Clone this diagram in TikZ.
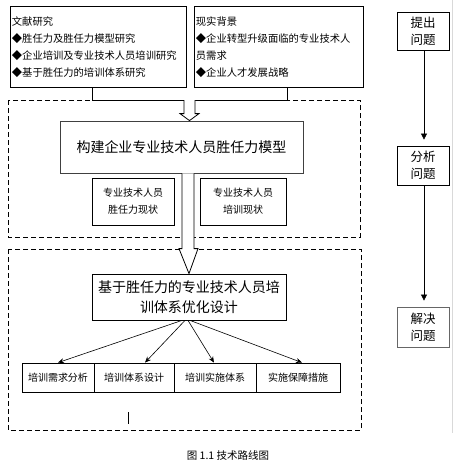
\documentclass[tikz,border=0pt]{standalone}
\usepackage{fontspec}
\setmainfont{Noto Sans CJK SC}
\usetikzlibrary{arrows.meta}
\tikzset{
  box/.style={draw,line width=0.8pt,inner sep=0pt,align=center},
  note/.style={box,anchor=north west,align=left,inner xsep=1.5pt,minimum height=81,
    font=\fontsize{10.3}{17}\selectfont},
  frame/.style={line width=0.8pt,dash pattern=on 5pt off 3pt},
  hollow/.style={line width=0.8pt,fill=white,line join=miter},
  fan/.style={line width=0.6pt,-{Stealth[length=6pt,width=5pt]}},
  flow/.style={line width=0.6pt,-{Triangle[length=6pt,width=6pt]},shorten >=6pt}
}
\begin{document}
\begin{tikzpicture}[x=1pt,y=-1pt]
\useasboundingbox (0,0) rectangle (462,472);

% background sources
\node[note,text width=173] (lit) at (10,6)
  {文献研究\\◆胜任力及胜任力模型研究\\◆企业培训及专业技术人员培训研究\\◆基于胜任力的培训体系研究};
\node[note,text width=166] (real) at (194,6)
  {现实背景\\◆企业转型升级面临的专业技术人\\员需求\\◆企业人才发展战略};

% two stages
\draw[frame] (8,100) rectangle (360,237);
\draw[frame] (8,249) rectangle (361,430);

\draw[line width=0.8pt] (lit.south -| 92,0) -- (92,100) -- (287,100) -- (real.south -| 287,0);
\coordinate (join) at (189.5,100);

\node[box,draw=black!75,minimum width=243,minimum height=52,
  font=\fontsize{14}{20}\selectfont] (model) at (181.5,147) {构建企业专业技术人员胜任力模型};
\node[box,minimum width=82,minimum height=47,font=\fontsize{10}{17}\selectfont]
  (nowcomp) at (133,201.5) {专业技术人员\\胜任力现状};
\node[box,minimum width=86,minimum height=47,font=\fontsize{10}{17}\selectfont]
  (nowtrain) at (243,201.5) {专业技术人员\\培训现状};

\node[box,minimum width=194,minimum height=46,font=\fontsize{14}{20}\selectfont]
  (design) at (189,297) {基于胜任力的专业技术人员培\\训体系优化设计};

% hollow arrows
\draw[hollow] ([xshift=-5.5pt]join) -- ([xshift=-5.5pt,yshift=7pt]join |- model.north)
  -- ([xshift=-9.5pt,yshift=7pt]join |- model.north) -- (join |- model.north)
  -- ([xshift=9.5pt,yshift=7pt]join |- model.north) -- ([xshift=5.5pt,yshift=7pt]join |- model.north)
  -- ([xshift=5.5pt]join);
\draw[hollow] ([xshift=-7pt]design.north |- model.south) -- ([xshift=-7pt,yshift=25pt]design.north)
  -- ([xshift=-10pt,yshift=25pt]design.north) -- (design.north)
  -- ([xshift=9pt,yshift=25pt]design.north) -- ([xshift=5pt,yshift=25pt]design.north)
  -- ([xshift=5pt]design.north |- model.south);

\begin{scope}[every node/.style={box,minimum height=29,font=\fontsize{10}{12}\selectfont}]
\node[minimum width=72] (needs) at (58,377.5) {培训需求分析};
\node[minimum width=80] (system) at (134,377.5) {培训体系设计};
\node[minimum width=82] (deliver) at (215,377.5) {培训实施体系};
\node[minimum width=84] (support) at (298,377.5) {实施保障措施};
\end{scope}

\draw[fan] ([xshift=-7pt]design.south) -- (needs.north);
\draw[fan] ([xshift=-4pt]design.south) -- ([xshift=11pt]system.north);
\draw[fan] ([xshift=-1pt]design.south) -- ([xshift=-1pt]deliver.north);
\draw[fan] ([xshift=1pt]design.south) -- ([xshift=4pt]support.north);

\draw[line width=0.8pt] (128,412) -- (128,424);

% right column
\begin{scope}[every node/.style={box,minimum width=52,font=\fontsize{12.5}{17}\selectfont}]
\node[minimum height=38] (raise) at (423,31) {提出\\问题};
\node[minimum height=39] (analyse) at (423,165.5) {分析\\问题};
\node[minimum height=40,draw=black!60] (solve) at (423,327) {解决\\问题};
\end{scope}
\draw[flow] ([xshift=1pt]raise.south) -- ([xshift=1pt]analyse.north);
\draw[flow] ([xshift=1pt]analyse.south) -- ([xshift=1pt]solve.north);
\draw[black!15,line width=0.8pt] (452,0) -- (452,433);

\node[font=\fontsize{10.5}{12}\selectfont] (caption) at (228,455) {图 1.1 技术路线图};
\end{tikzpicture}
\end{document}
